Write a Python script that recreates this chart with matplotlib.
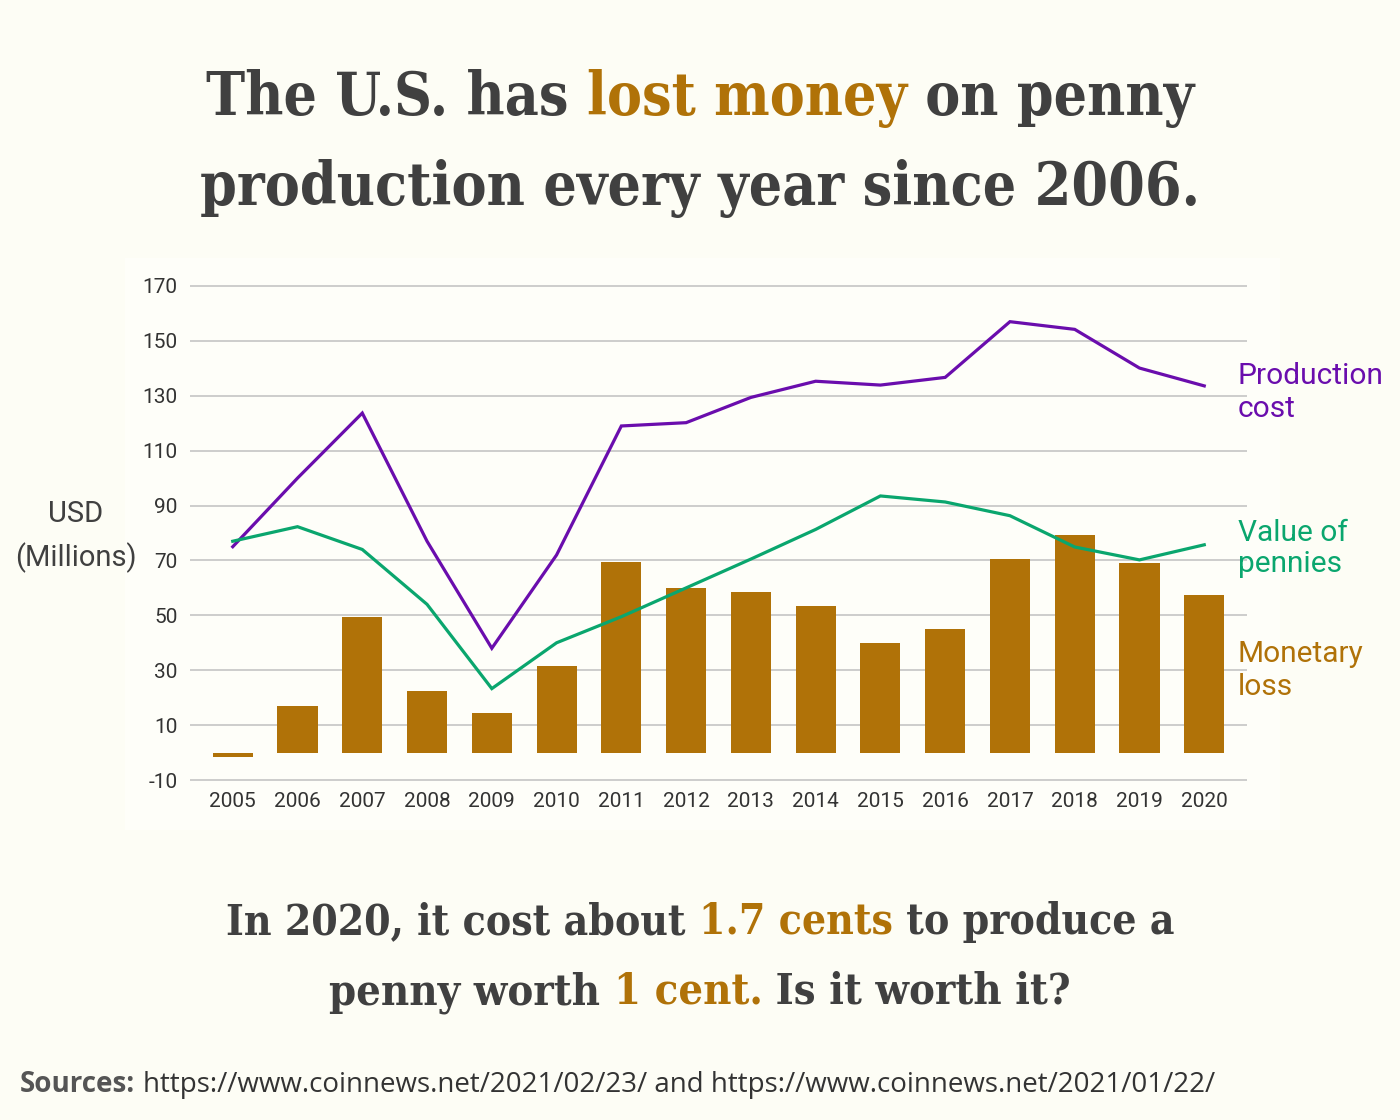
import matplotlib
matplotlib.use("Agg")
import matplotlib.pyplot as plt
from matplotlib.patches import Rectangle
import numpy as np

# ---- data ----
years = ["2005", "2006", "2007", "2008", "2009", "2010", "2011", "2012",
         "2013", "2014", "2015", "2016", "2017", "2018", "2019", "2020"]
production_cost = [75, 100, 123.7, 77, 38, 72, 119, 120.2,
                   129.4, 135.3, 133.9, 136.7, 157, 154.2, 140.1, 133.6]
value_of_pennies = [77, 82.3, 74, 54, 23.3, 40, 49.5, 60,
                    70.5, 81.3, 93.5, 91.3, 86.3, 74.9, 70.2, 75.7]
monetary_loss = [-1.7, 16.8, 49.5, 22.6, 14.3, 31.5, 69.4, 59.8,
                 58.5, 53.4, 39.9, 45.0, 70.7, 79.1, 69.2, 57.3]
yticks = [-10, 10, 30, 50, 70, 90, 110, 130, 150, 170]

# ---- style ----
BG = "#fdfdf5"
PANEL = "#fefef9"
DARK = "#404040"
BROWN = "#b07208"
PURPLE = "#6a0dad"
GREEN = "#0aa66e"
GRID = "#c9c9c9"

W, H = 1400, 1120
fig = plt.figure(figsize=(14, 11.2), dpi=100, facecolor=BG)

# subtle panel behind the chart
fig.patches.append(Rectangle((125 / W, 1 - 830 / H), (1280 - 125) / W, (830 - 258) / H,
                             transform=fig.transFigure, facecolor=PANEL,
                             edgecolor="none", zorder=-5))

ppu = (780 - 286) / 180.0
ax_left = 190 / W
ax_right = 1247 / W
ax_bottom = 1 - (780 + ppu) / H
ax_top = 1 - (286 - ppu) / H
ax = fig.add_axes([ax_left, ax_bottom, ax_right - ax_left, ax_top - ax_bottom])
ax.set_facecolor("none")
ax.set_zorder(2)

x = np.arange(len(years))
ax.bar(x, monetary_loss, width=0.62, color=BROWN, zorder=2)
ax.plot(x, production_cost, color=PURPLE, lw=2.3, zorder=3, solid_joinstyle="miter")
ax.plot(x, value_of_pennies, color=GREEN, lw=2.3, zorder=3, solid_joinstyle="miter")

ax.set_xlim(-0.66, len(years) - 1 + 0.66)
ax.set_ylim(-11, 171)
ax.set_yticks(yticks)
ax.set_yticklabels([str(v) for v in yticks])
ax.set_xticks(x)
ax.set_xticklabels(years)
ax.yaxis.grid(True, color=GRID, lw=1.3, zorder=0)
ax.set_axisbelow(True)
for s in ax.spines.values():
    s.set_visible(False)
ax.tick_params(axis="both", length=0, labelsize=15, labelcolor="#333333")
ax.tick_params(axis="y", pad=9)
ax.tick_params(axis="x", pad=7)
for lab in ax.get_xticklabels() + ax.get_yticklabels():
    lab.set_fontfamily("Roboto")

# y-axis title
fig.text(76 / W, 1 - 522 / H, "USD", ha="center", va="baseline", fontsize=21,
         color=DARK, family="Roboto")
fig.text(76 / W, 1 - 566 / H, "(Millions)", ha="center", va="baseline", fontsize=21,
         color=DARK, family="Roboto")

# series labels on the right
for txt, yb, col in [("Production", 384, PURPLE), ("cost", 417, PURPLE),
                     ("Value of", 541, GREEN), ("pennies", 572, GREEN),
                     ("Monetary", 662, BROWN), ("loss", 695, BROWN)]:
    fig.text(1238 / W, 1 - yb / H, txt, ha="left", va="baseline", fontsize=21.5,
             color=col, family="Roboto")

renderer = fig.canvas.get_renderer()


def text_width(s, size, family, weight, stretch):
    a = fig.text(0, 0, "|" + s + "|", fontsize=size, family=family, weight=weight,
                 fontstretch=stretch)
    b = fig.text(0, 0, "||", fontsize=size, family=family, weight=weight,
                 fontstretch=stretch)
    w = a.get_window_extent(renderer).width - b.get_window_extent(renderer).width
    a.remove()
    b.remove()
    return w


def rich_line(parts, center_x, baseline_y, target_width, family, weight, size0,
              stretch="normal"):
    full = "".join(p[0] for p in parts)
    fw = text_width(full, size0, family, weight, stretch)
    size = size0 * target_width / fw
    fw = text_width(full, size, family, weight, stretch)
    x0 = center_x - fw / 2
    prefix = ""
    for t, c in parts:
        off = text_width(prefix, size, family, weight, stretch) if prefix else 0
        fig.text((x0 + off) / W, 1 - baseline_y / H, t, fontsize=size, family=family,
                 weight=weight, color=c, ha="left", va="baseline", fontstretch=stretch)
        prefix += t


SERIF = ["DejaVu Serif"]
ST = "condensed"
rich_line([("The U.S. has ", DARK), ("lost money", BROWN), (" on penny", DARK)],
          700, 115, 990, SERIF, "bold", 44, ST)
rich_line([("production every year since 2006.", DARK)], 700, 205, 1000, SERIF, "bold", 44, ST)
rich_line([("In 2020, it cost about ", DARK), ("1.7 cents", BROWN),
           (" to produce a", DARK)], 700, 934, 950, SERIF, "bold", 34, ST)
rich_line([("penny worth ", DARK), ("1 cent.", BROWN), (" Is it worth it?", DARK)],
          700, 1004, 742, SERIF, "bold", 34, ST)

# sources
fig.text(20 / W, 1 - 1092 / H, "Sources:", fontsize=20, family="Open Sans",
         weight="bold", color="#555555", ha="left", va="baseline")
bw = text_width("Sources:", 20, "Open Sans", "bold", "normal")
fig.text((20 + bw + 8) / W, 1 - 1092 / H,
         "https://www.coinnews.net/2021/02/23/ and https://www.coinnews.net/2021/01/22/",
         fontsize=20, family="Open Sans", color="#333333", ha="left", va="baseline")

fig.savefig("out.png", dpi=100, facecolor=BG)
